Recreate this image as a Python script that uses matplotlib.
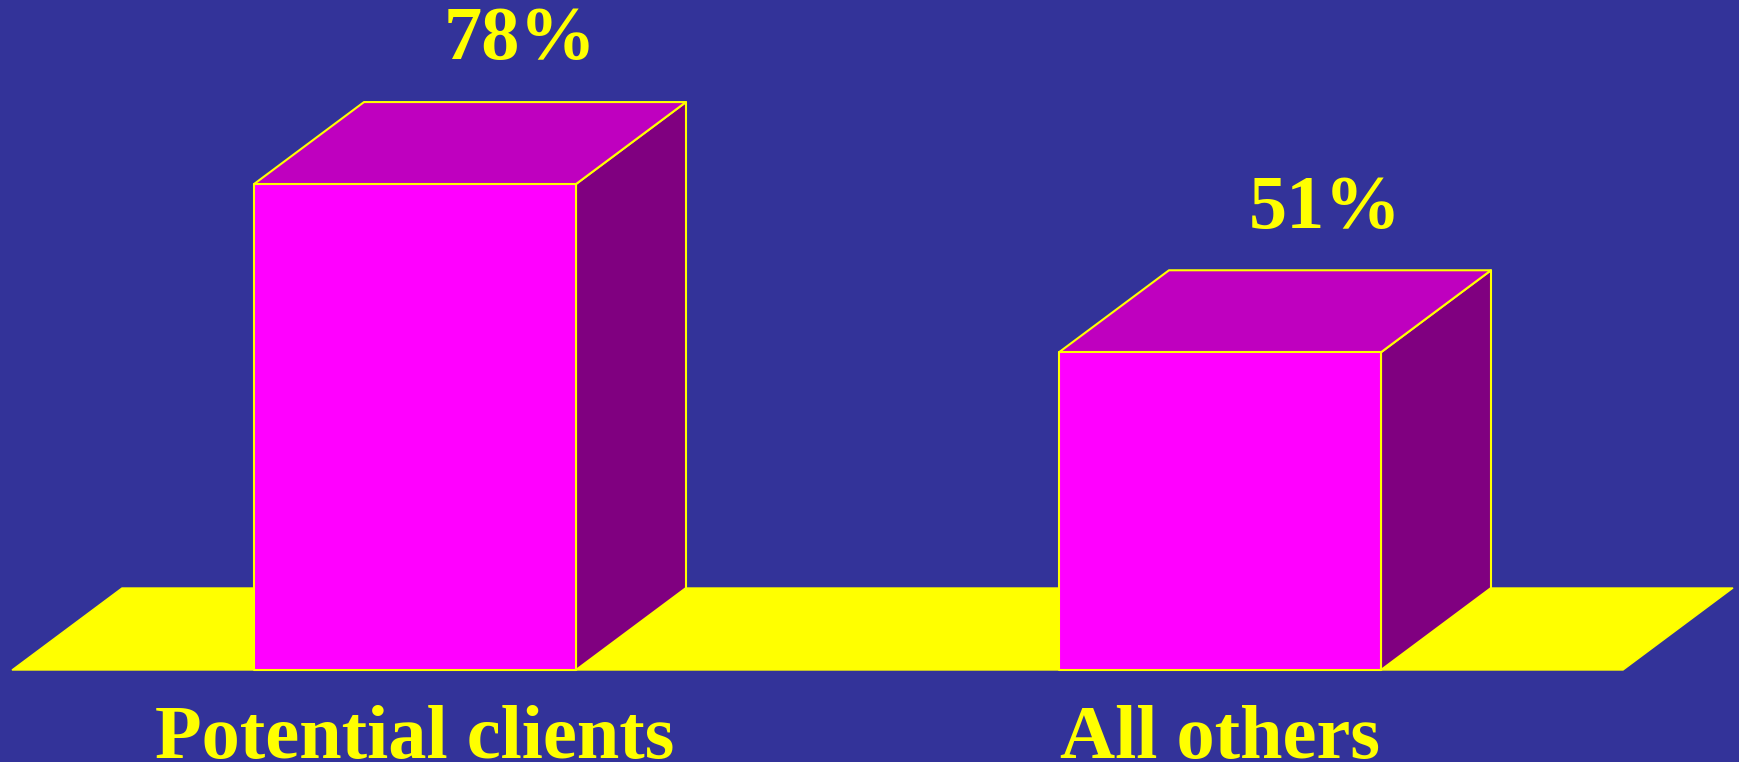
import matplotlib
matplotlib.use("Agg")
import matplotlib.pyplot as plt
from matplotlib.patches import Polygon

categories = ["Potential clients", "All others"]
values = [78, 51]

bg = "#333399"
yellow = "#FFFF00"
front_c = "#FF00FF"
top_c = "#BF00BF"
side_c = "#800080"

# layout in pixels along x, percent along y
px_per_pct = 6.23
x0 = 415
spacing = 805
bar_w = 322
dx = 110
dy = 82 / px_per_pct

fig = plt.figure(figsize=(17.4, 7.62), dpi=100)
fig.patch.set_facecolor(bg)
ax = fig.add_axes([0, 0, 1, 1])
ax.set_facecolor(bg)
ax.set_xlim(0, 1740)
ax.set_ylim(-92 / px_per_pct, (762 - 92) / px_per_pct)
ax.axis("off")

# floor
floor = Polygon([(12, 0), (1623, 0), (1623 + dx, dy), (12 + dx, dy)],
                closed=True, facecolor=yellow, edgecolor=yellow, lw=1)
ax.add_patch(floor)

for i, (cat, v) in enumerate(zip(categories, values)):
    xc = x0 + i * spacing
    l = xc - bar_w / 2
    r = xc + bar_w / 2
    side = Polygon([(r, 0), (r + dx, dy), (r + dx, v + dy), (r, v)],
                   closed=True, facecolor=side_c, edgecolor=yellow, lw=1.5, joinstyle="round")
    top = Polygon([(l, v), (r, v), (r + dx, v + dy), (l + dx, v + dy)],
                  closed=True, facecolor=top_c, edgecolor=yellow, lw=1.5, joinstyle="round")
    front = Polygon([(l, 0), (r, 0), (r, v), (l, v)],
                    closed=True, facecolor=front_c, edgecolor=yellow, lw=1.5, joinstyle="round")
    for p in (side, top, front):
        ax.add_patch(p)
    ax.text(xc + dx - 5, v + 20, f"{v}%", ha="center", va="baseline",
            color=yellow, fontsize=55, fontweight="bold", family="Liberation Serif")
    ax.text(xc, -88 / px_per_pct, cat, ha="center", va="baseline",
            color=yellow, fontsize=55, fontweight="bold", family="Liberation Serif")

fig.savefig("out.png", dpi=100, facecolor=bg)
